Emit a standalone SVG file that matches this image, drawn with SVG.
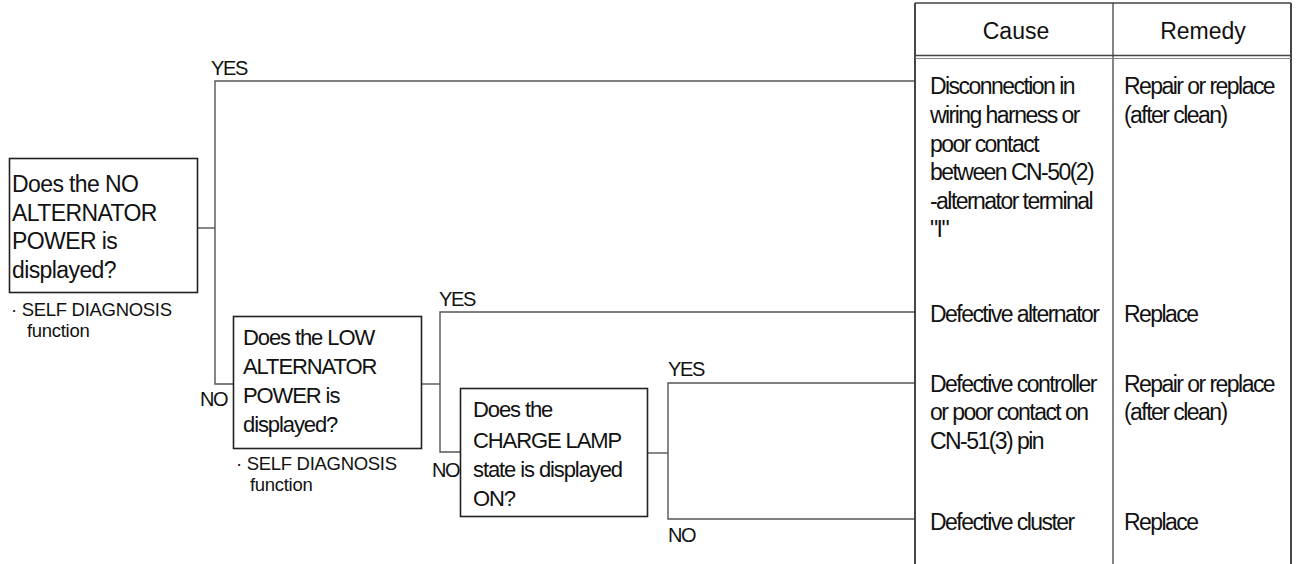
<svg xmlns="http://www.w3.org/2000/svg" width="1296" height="564" viewBox="0 0 1296 564">
<style>
text{font-family:"Liberation Sans",Arial,sans-serif;fill:#111;}
.q{font-size:22px;letter-spacing:-1.1px;}
.q1{font-size:23px;letter-spacing:-0.6px;}
.s{font-size:18.5px;letter-spacing:-0.3px;}
.l{font-size:20px;letter-spacing:-1.4px;}
.t{font-size:23px;letter-spacing:-1.55px;}
.h{font-size:23px;text-anchor:middle;}
.box{fill:#fff;stroke:#222;stroke-width:1.6;}
.con{fill:none;stroke:#555;stroke-width:1.4;}
.tb{fill:none;stroke:#333;stroke-width:1.8;}
.tb2{fill:none;stroke:#444;stroke-width:1.3;}
</style>
<g id="connectors">
<path class="con" d="M197,228 H215"/>
<path class="con" d="M915,81 H215 V384 H233"/>
<path class="con" d="M422,384 H440"/>
<path class="con" d="M915,312 H440 V452 H460"/>
<path class="con" d="M648,453 H668"/>
<path class="con" d="M915,383 H668 V519 H915"/>
<text class="l" x="211" y="75">YES</text>
<text class="l" x="200" y="406">NO</text>
<text class="l" x="439" y="306">YES</text>
<text class="l" x="432" y="477">NO</text>
<text class="l" x="668" y="376">YES</text>
<text class="l" x="668" y="542">NO</text>
</g>
<g id="q1">
<rect class="box" x="9.5" y="158.5" width="188" height="134"/>
<text class="q1" x="12" y="192">Does the NO</text>
<text class="q1" x="12" y="221">ALTERNATOR</text>
<text class="q1" x="12" y="249">POWER is</text>
<text class="q1" x="12" y="278">displayed?</text>
<text class="s" x="11" y="316">· SELF DIAGNOSIS</text>
<text class="s" x="27" y="337">function</text>
</g>
<g id="q2">
<rect class="box" x="233.5" y="316.5" width="188" height="132"/>
<text class="q" x="243" y="345">Does the LOW</text>
<text class="q" x="243" y="374">ALTERNATOR</text>
<text class="q" x="243" y="403">POWER is</text>
<text class="q" x="243" y="432">displayed?</text>
<text class="s" x="236" y="470">· SELF DIAGNOSIS</text>
<text class="s" x="250" y="491">function</text>
</g>
<g id="q3">
<rect class="box" x="460.5" y="388.5" width="187" height="128"/>
<text class="q" x="473" y="417">Does the</text>
<text class="q" x="473" y="448">CHARGE LAMP</text>
<text class="q" x="473" y="477">state is displayed</text>
<text class="q" x="473" y="506">ON?</text>
</g>
<g id="table">
<path class="tb" d="M915,3 V564 M1291,3 V564"/>
<path class="tb2" d="M915,3 H1291 M1113,3 V564 M915,55.5 H1291"/>
<path fill="none" stroke="#888" stroke-width="1.2" d="M915,58.5 H1291"/>
<text class="h" x="1016" y="38.5">Cause</text>
<text class="h" x="1203" y="38.5">Remedy</text>
</g>
<g id="r1">
<text class="t" x="930" y="94">Disconnection in</text>
<text class="t" x="930" y="123">wiring harness or</text>
<text class="t" x="930" y="151.5">poor contact</text>
<text class="t" x="930" y="180">between CN-50(2)</text>
<text class="t" x="930" y="208.5">-alternator terminal</text>
<text class="t" x="930" y="237">"I"</text>
<text class="t" x="1124" y="94">Repair or replace</text>
<text class="t" x="1124" y="123">(after clean)</text>
</g>
<g id="r2">
<text class="t" x="930" y="322">Defective alternator</text>
<text class="t" x="1124" y="322">Replace</text>
</g>
<g id="r3">
<text class="t" x="930" y="392">Defective controller</text>
<text class="t" x="930" y="420">or poor contact on</text>
<text class="t" x="930" y="448.5">CN-51(3) pin</text>
<text class="t" x="1124" y="392">Repair or replace</text>
<text class="t" x="1124" y="420">(after clean)</text>
</g>
<g id="r4">
<text class="t" x="930" y="530">Defective cluster</text>
<text class="t" x="1124" y="530">Replace</text>
</g>
</svg>
